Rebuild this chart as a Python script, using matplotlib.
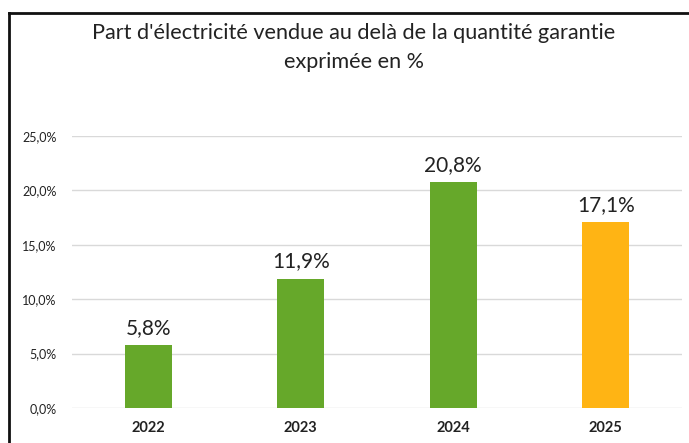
import matplotlib
matplotlib.use("Agg")
import matplotlib.pyplot as plt
from matplotlib.lines import Line2D
from matplotlib.ticker import FuncFormatter, MultipleLocator

categories = ["2022", "2023", "2024", "2025"]
values = [5.8, 11.9, 20.8, 17.1]
bar_colors = ["#66a82a", "#66a82a", "#66a82a", "#ffb414"]
title = "Part d'électricité vendue au delà de la quantité garantie\nexprimée en %"

plt.rcParams['font.family'] = ['Lato', 'DejaVu Sans']

fig = plt.figure(figsize=(6.89, 4.43), dpi=100)
ax = fig.add_axes([72/689, 35/443, (682-72)/689, (408-136)/443])

x = range(len(categories))
bars = ax.bar(x, values, width=0.31, color=bar_colors, zorder=3)
ax.set_xlim(-0.5, len(categories) - 0.5)
ax.set_ylim(0, 25)
ax.yaxis.set_major_locator(MultipleLocator(5))
ax.yaxis.set_major_formatter(FuncFormatter(lambda v, p: f"{v:.1f}%".replace('.', ',')))
ax.grid(axis='y', color='#d9d9d9', linewidth=1, zorder=0)
ax.set_axisbelow(True)
for s in ax.spines.values():
    s.set_visible(False)
ax.tick_params(axis='both', length=0)
ax.tick_params(axis='y', labelsize=9, colors='#222222', pad=11)
ax.set_xticks(list(x))
ax.set_xticklabels(categories, fontsize=10.5, fontweight='bold', color='#222222')
ax.tick_params(axis='x', pad=9)

for b, v in zip(bars, values):
    ax.annotate(f"{v:.1f}%".replace('.', ','), (b.get_x() + b.get_width()/2, v),
                xytext=(0, 5), textcoords='offset points', ha='center', va='bottom',
                fontsize=15, color='#222222', clip_on=False)

fig.text(354/689, 1 - 47.5/443, title, ha='center', va='center', fontsize=15.6,
         color='#222222', linespacing=1.62)

# frame lines
fig.add_artist(Line2D([9/689, 1.0], [1 - 13/443, 1 - 13/443], color='#111111', linewidth=2))
fig.add_artist(Line2D([9/689, 9/689], [0, 1 - 13/443], color='#111111', linewidth=2))

fig.savefig("out.png", dpi=100)
